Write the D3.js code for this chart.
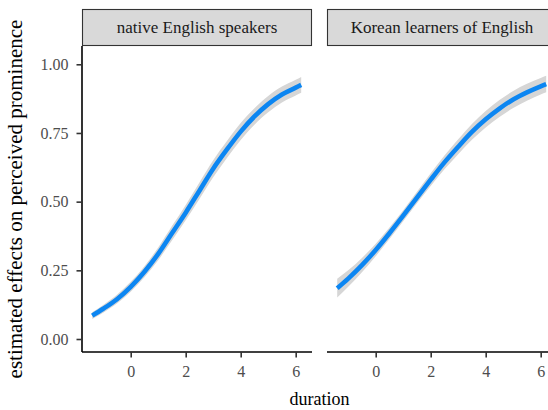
<!DOCTYPE html>
<html>
<head>
<meta charset="utf-8">
<script src="https://cdn.jsdelivr.net/npm/d3@7/dist/d3.min.js"></script>
<style>
  html, body { margin: 0; padding: 0; background: #fff; }
  svg { display: block; }
  svg text { font-family: "Liberation Serif", "DejaVu Serif", serif !important; }
</style>
</head>
<body>
<svg id="chart" width="548" height="410"></svg>
<script>
// Panels (facets)
const panels = ["native English speakers", "Korean learners of English"];

// Duration grid where the fitted effect was evaluated
const duration = [-1.4, -1, -0.5, 0, 0.5, 1, 1.5, 2, 2.5, 3, 3.5, 4, 4.5, 5, 5.5, 6, 6.2];

// Estimated effect on perceived prominence, per panel
const nativeFit = [0.085, 0.11, 0.145, 0.19, 0.245, 0.31, 0.385, 0.46, 0.54, 0.62, 0.69, 0.755, 0.81, 0.855, 0.89, 0.915, 0.925];
const koreanFit = [0.185, 0.22, 0.269, 0.324, 0.385, 0.449, 0.515, 0.58, 0.643, 0.70, 0.754, 0.80, 0.839, 0.872, 0.898, 0.92, 0.928];

// Half-width of the confidence band around each fit
const nativeCI = [0.012, 0.014, 0.016, 0.018, 0.02, 0.023, 0.026, 0.028, 0.03, 0.031, 0.031, 0.031, 0.03, 0.03, 0.029, 0.029, 0.029];
const koreanCI = [0.034, 0.03, 0.026, 0.023, 0.021, 0.02, 0.021, 0.023, 0.025, 0.027, 0.029, 0.03, 0.031, 0.031, 0.031, 0.03, 0.03];

// Axis ticks
const xTicks = [0, 2, 4, 6];
const yTicks = [0, 0.25, 0.5, 0.75, 1];

const fits = [nativeFit, koreanFit];
const cis = [nativeCI, koreanCI];

const serif = '"Liberation Serif", "DejaVu Serif", serif';
const svg = d3.select("#chart");

const panelW = 230;
const panelLefts = [82, 327];
const panelTop = 46;
const panelBottom = 352;
const stripTop = 9;

const y = d3.scaleLinear().domain([-0.0473, 1.0666]).range([panelBottom, panelTop]);

const fontTick = 16;

panels.forEach((name, i) => {
  const x0 = panelLefts[i];
  const x = d3.scaleLinear().domain([-1.771, 6.593]).range([x0, x0 + panelW]);

  // Strip
  svg.append("rect")
    .attr("x", x0 + 0.5).attr("y", stripTop + 0.5)
    .attr("width", panelW - 1).attr("height", panelTop - stripTop - 1)
    .attr("fill", "#D9D9D9").attr("stroke", "#333333").attr("stroke-width", 1.1);
  svg.append("text")
    .attr("x", x0 + panelW / 2).attr("y", (stripTop + panelTop) / 2)
    .attr("dy", "0.35em")
    .attr("text-anchor", "middle")
    .style("font-family", serif)
    .attr("font-size", 17).attr("fill", "#1A1A1A")
    .text(name);

  const rows = duration.map((d, k) => ({ x: d, y: fits[i][k], lo: fits[i][k] - cis[i][k], hi: fits[i][k] + cis[i][k] }));

  const g = svg.append("g");

  // Confidence band
  g.append("path")
    .datum(rows)
    .attr("fill", "#D6D6D6")
    .attr("d", d3.area().curve(d3.curveMonotoneX)
      .x(d => x(d.x)).y0(d => y(d.lo)).y1(d => y(d.hi)));

  // Fitted curve
  g.append("path")
    .datum(rows)
    .attr("fill", "none")
    .attr("stroke", "#0C86F2")
    .attr("stroke-width", 4.6)
    .attr("d", d3.line().curve(d3.curveMonotoneX)
      .x(d => x(d.x)).y(d => y(d.y)));

  // Bottom axis
  const xa = svg.append("g")
    .attr("transform", `translate(0,${panelBottom})`)
    .call(d3.axisBottom(x).tickValues(xTicks).tickSize(5.5).tickPadding(8).tickFormat(d3.format("d")));
  xa.attr("font-family", null);
  xa.select(".domain").attr("stroke", "#000").attr("stroke-width", 1.6)
    .attr("d", `M${x0},0H${x0 + panelW}`);
  xa.selectAll(".tick line").attr("stroke", "#333333").attr("stroke-width", 1.6);
  xa.selectAll(".tick text").attr("fill", "#4D4D4D").attr("font-size", fontTick)
    .style("font-family", serif);

  // Left axis only on the first panel
  if (i === 0) {
    const ya = svg.append("g")
      .attr("transform", `translate(${x0},0)`)
      .call(d3.axisLeft(y).tickValues(yTicks).tickSize(5.5).tickPadding(8).tickFormat(d3.format(".2f")));
    ya.attr("font-family", null);
    ya.select(".domain").attr("stroke", "#000").attr("stroke-width", 1.6)
      .attr("d", `M0,${panelTop}V${panelBottom}`);
    ya.selectAll(".tick line").attr("stroke", "#333333").attr("stroke-width", 1.6);
    ya.selectAll(".tick text").attr("fill", "#4D4D4D").attr("font-size", fontTick)
      .style("font-family", serif);
  }
});

// Axis titles
svg.append("text")
  .attr("x", (panelLefts[0] + panelLefts[1] + panelW) / 2)
  .attr("y", 405)
  .attr("text-anchor", "middle")
  .style("font-family", serif)
  .attr("font-size", 18).attr("fill", "#000")
  .text("duration");

svg.append("text")
  .attr("transform", `translate(22,${(panelTop + panelBottom) / 2}) rotate(-90)`)
  .attr("text-anchor", "middle")
  .style("font-family", serif)
  .attr("font-size", 21).attr("fill", "#000")
  .text("estimated effects on perceived prominence");
</script>
</body>
</html>
